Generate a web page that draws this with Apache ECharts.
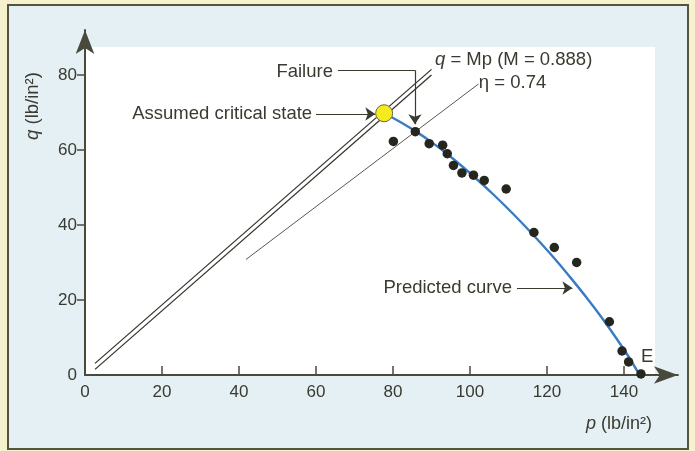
<!DOCTYPE html>
<html>
<head>
<meta charset="utf-8">
<script src="https://cdn.jsdelivr.net/npm/echarts@6/dist/echarts.min.js"></script>
<style>
html,body{margin:0;padding:0;background:#f6f2cd;}
#chart{width:695px;height:451px;}
</style>
</head>
<body>
<div id="chart"></div>
<script>
// ---- data ----
const xTickLabels = [0, 20, 40, 60, 80, 100, 120, 140];
const yTickLabels = [0, 20, 40, 60, 80];
const xTickMarks = [20, 40, 60, 80, 100, 120, 140];
const yTickMarks = [20, 40, 60, 80];

// measured test points (p, q)
const testP = [80.1, 85.8, 89.4, 92.9, 94.1, 95.7, 97.9, 100.9, 103.7, 109.4, 116.6, 121.9, 127.7, 136.2, 139.5, 141.2, 144.4];
const testQ = [62.3, 64.9, 61.7, 61.3, 59.0, 55.9, 53.9, 53.3, 51.9, 49.6, 38.0, 34.0, 30.0, 14.2, 6.4, 3.5, 0.3];

// predicted curve
const curveP = [77.7, 82, 86, 90, 94, 98, 102, 106, 110, 114, 118, 122, 126, 130, 134, 138, 141, 143.7];
const curveQ = [69.8, 67.4, 64.9, 62.1, 59.0, 55.6, 52.0, 48.2, 44.2, 40.0, 35.6, 31.0, 26.1, 21.0, 15.6, 9.8, 5.2, 0.6];

// assumed critical state
const criticalState = [77.7, 69.8];

// critical state line q = Mp drawn as a double line (two parallel strokes)
const cslUpper = [[2.6, 3.1], [90, 81.5]];
const cslLower = [[2.6, 1.5], [90, 80.0]];
// eta = 0.74 line
const etaLine = [[41.8, 30.8], [102.2, 77.6]];

// annotation leader lines (data coordinates)
const leaderPlain = [[[65.7, 81.3], [85.7, 81.3]]];
const leaderArrows = [
  [[85.7, 81.3], [85.7, 66.9]],
  [[60.0, 69.6], [75.4, 69.6]],
  [[112.2, 23.2], [126.6, 23.2]]
];

// annotation texts and their anchors (data coordinates)
const notes = [
  {text: 'Failure', at: [64.4, 80.9], align: 'right'},
  {text: 'Assumed critical state', at: [59.0, 69.6], align: 'right'},
  {text: '{i|q} = Mp (M = 0.888)', at: [90.9, 84.0], align: 'left'},
  {text: 'η = 0.74', at: [102.3, 77.9], align: 'left'},
  {text: 'Predicted curve', at: [110.9, 23.1], align: 'right'},
  {text: 'E', at: [146.0, 4.8], align: 'center'}
];

const FONT = '"Liberation Sans", Arial, Helvetica, sans-serif';
const TXT = '#3a3a30';
const AX = '#4a4a3c';

const chart = echarts.init(document.getElementById('chart'), null, {renderer: 'canvas'});

const testData = testP.map((p, i) => [p, testQ[i]]);
const curveData = curveP.map((p, i) => [p, curveQ[i]]);

const option = {
  backgroundColor: '#f6f2cd',
  animation: false,
  grid: {left: 85, right: 17.1, top: 30, bottom: 76, containLabel: false},
  xAxis: {
    type: 'value', min: 0, max: 154,
    axisLine: {show: true, onZero: false, lineStyle: {color: AX, width: 2}, symbol: ['none', 'arrow'], symbolSize: [13, 24]},
    axisTick: {show: true, inside: true, length: 9, customValues: xTickMarks, lineStyle: {color: AX, width: 1.5}},
    axisLabel: {show: true, customValues: xTickLabels, margin: 9, fontSize: 17, color: TXT, fontFamily: FONT},
    splitLine: {show: false}
  },
  yAxis: {
    type: 'value', min: 0, max: 92,
    axisLine: {show: true, onZero: false, lineStyle: {color: AX, width: 2}, symbol: ['none', 'arrow'], symbolSize: [14, 24]},
    axisTick: {show: true, inside: false, length: 8, customValues: yTickMarks, lineStyle: {color: AX, width: 1.5}},
    axisLabel: {show: true, customValues: yTickLabels, margin: 8, fontSize: 17, color: TXT, fontFamily: FONT},
    splitLine: {show: false}
  },
  series: [
    {type: 'line', data: cslUpper, showSymbol: false, silent: true, lineStyle: {color: '#35352d', width: 1.3}, z: 3},
    {type: 'line', data: cslLower, showSymbol: false, silent: true, lineStyle: {color: '#35352d', width: 1.3}, z: 3},
    {type: 'line', data: etaLine, showSymbol: false, silent: true, lineStyle: {color: '#5a5a50', width: 1}, z: 3},
    {type: 'line', data: curveData, showSymbol: false, smooth: 0.4, silent: true, lineStyle: {color: '#3a7cc2', width: 2.4}, z: 4},
    {type: 'scatter', data: testData, symbol: 'circle', symbolSize: 9.5, itemStyle: {color: '#26261f', opacity: 1}, z: 5},
    {type: 'scatter', data: [criticalState], symbol: 'circle', symbolSize: 17, itemStyle: {color: '#f5ea1e', borderColor: '#6a6a40', borderWidth: 1, opacity: 1}, z: 6},
    {type: 'lines', coordinateSystem: 'cartesian2d', silent: true, symbol: ['none', 'none'],
      data: leaderPlain.map(c => ({coords: c})), lineStyle: {color: '#3a3a30', width: 1.2, opacity: 1}, z: 6},
    {type: 'lines', coordinateSystem: 'cartesian2d', silent: true, symbol: ['none', 'arrow'], symbolSize: 10,
      data: leaderArrows.map(c => ({coords: c})), lineStyle: {color: '#3a3a30', width: 1.2, opacity: 1}, z: 6}
  ]
};
chart.setOption(option);

const graphics = [
  {type: 'rect', z: -20, silent: true, shape: {x: 8, y: 5, width: 680, height: 444},
    style: {fill: '#e4f0f4', stroke: '#55553f', lineWidth: 2}},
  {type: 'rect', z: -19, silent: true, shape: {x: 86, y: 47, width: 569, height: 327},
    style: {fill: '#ffffff'}},
  {type: 'text', z: 50, silent: true, x: 33, y: 106, rotation: Math.PI / 2,
    style: {text: '{i|q} (lb/in²)', fontSize: 18.5, fontFamily: FONT, fill: TXT, align: 'center', verticalAlign: 'middle',
      rich: {i: {fontStyle: 'italic', fontSize: 18.5, fontFamily: FONT, fill: TXT}}}},
  {type: 'text', z: 50, silent: true, x: 619, y: 424,
    style: {text: '{i|p} (lb/in²)', fontSize: 18, fontFamily: FONT, fill: TXT, align: 'center', verticalAlign: 'middle',
      rich: {i: {fontStyle: 'italic', fontSize: 18, fontFamily: FONT, fill: TXT}}}}
];
notes.forEach(n => {
  const px = chart.convertToPixel({gridIndex: 0}, n.at);
  graphics.push({type: 'text', z: 50, silent: true, x: px[0], y: px[1],
    style: {text: n.text, fontSize: 18.5, fontFamily: FONT, fill: TXT, align: n.align, verticalAlign: 'middle',
      rich: {i: {fontStyle: 'italic', fontSize: 18.5, fontFamily: FONT, fill: TXT}}}});
});
chart.setOption({graphic: graphics});
</script>
</body>
</html>
